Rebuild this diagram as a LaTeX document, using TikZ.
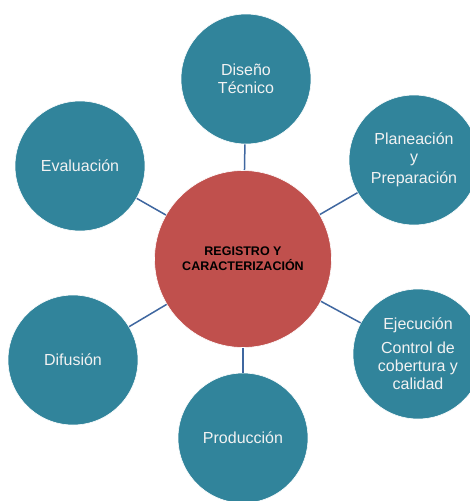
\documentclass[tikz,border=0pt]{standalone}
\usepackage{fontspec}
\setmainfont{Liberation Sans}
\definecolor{tealfase}{HTML}{31849B}
\definecolor{rojonucleo}{HTML}{C0504D}
\definecolor{azulenlace}{HTML}{3F67A0}
\tikzset{
  fase/.style={circle, fill=tealfase, draw=white, line width=0.6pt, minimum size=130pt, inner sep=0pt,
    text=white!95!black, align=center, font=\fontsize{16}{18}\selectfont},
  nucleo/.style={circle, fill=rojonucleo, draw=white, line width=0.6pt, minimum size=177pt, inner sep=0pt,
    align=center, font=\bfseries\fontsize{12.5}{15}\selectfont},
  enlace/.style={draw=azulenlace, line width=1.5pt}
}
\begin{document}
\begin{tikzpicture}[x=1pt, y=-1pt]
    \clip (0,0) rectangle (470,501);
    \fill[white] (0,0) rectangle (470,501);

    % nucleo central
    \node[nucleo] (reg) at (243,259) {REGISTRO Y\\CARACTERIZACIÓN};

    % fases alrededor
    \node[fase] (dis) at (246,79) {Diseño\\Técnico};
    \node[fase] (pla) at (414,160) {Planeación\\y\\[3pt]Preparación};
    \node[fase] (eje) at (418,354) {Ejecución\\[6pt]Control de\\cobertura y\\calidad};
    \node[fase] (pro) at (243,438) {Producción};
    \node[fase] (dif) at (73,360) {Difusión};
    \node[fase] (eva) at (80,166) {Evaluación};

    \foreach \f in {dis,pla,eje,pro,dif,eva}
      \draw[enlace] (reg) -- (\f);
  \end{tikzpicture}
\end{document}
